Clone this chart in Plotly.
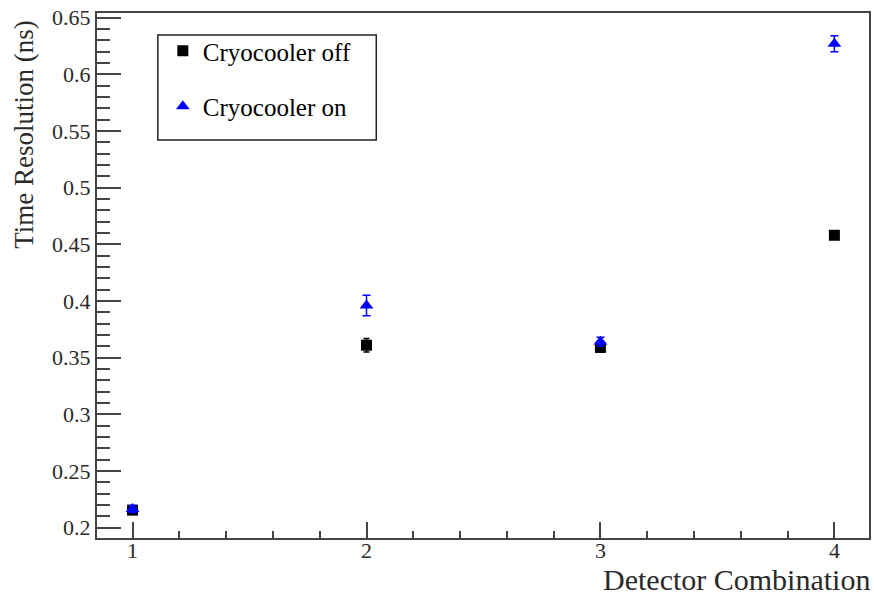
import plotly.graph_objects as go

detector = [1, 2, 3, 4]
off_vals = [0.2155, 0.361, 0.359, 0.458]
off_err = [0.002, 0.006, 0.003, 0.003]
on_vals = [0.2165, 0.396, 0.364, 0.627]
on_err = [0.003, 0.009, 0.004, 0.007]

x_ticks = [1, 2, 3, 4]
x_title = "Detector Combination"
y_title = "Time Resolution (ns)"

FONT = "Liberation Serif, Times New Roman, serif"
TXT = "#2a2a2a"
AX = "#444444"

W, H = 874, 598
L, R, T, B = 97, 3, 13, 60


def px(x):
    return (x - L) / (W - L - R)


def py(y):
    return 1 - (y - T) / (H - T - B)


fig = go.Figure()
fig.add_trace(go.Scatter(
    x=detector, y=off_vals, mode="markers", name="Cryocooler off",
    marker=dict(symbol="square", size=11, color="black"),
    error_y=dict(type="data", array=off_err, color="black", thickness=1.5, width=3),
    legendgroup="a"))
fig.add_trace(go.Scatter(
    x=detector, y=on_vals, mode="markers", name="Cryocooler on",
    marker=dict(symbol="triangle-up", size=12, color="#0000ff"),
    error_y=dict(type="data", array=on_err, color="#0000ff", thickness=1.5, width=4),
    legendgroup="b"))

fig.update_layout(
    width=W, height=H,
    margin=dict(l=L, r=R, t=T, b=B),
    paper_bgcolor="white", plot_bgcolor="white",
    font=dict(family=FONT, size=22, color=TXT),
    showlegend=True,
    legend=dict(
        x=px(163), y=py(28), xanchor="left", yanchor="top",
        borderwidth=0, bgcolor="rgba(0,0,0,0)",
        font=dict(family=FONT, size=25, color="black"),
        tracegroupgap=20, traceorder="grouped",
        itemwidth=30,
    ),
    shapes=[dict(type="rect", xref="paper", yref="paper",
                 x0=px(158), x1=px(377), y0=py(140), y1=py(35),
                 line=dict(color="#222222", width=1.5), fillcolor="rgba(0,0,0,0)")],
    xaxis=dict(
        range=[0.848, 4.148], tickvals=x_ticks, ticktext=[str(v) for v in x_ticks],
        showgrid=False, zeroline=False,
        showline=True, linecolor=AX, linewidth=2, mirror=True,
        ticks="inside", ticklen=16, tickwidth=2, tickcolor=AX,
        minor=dict(dtick=0.2, tick0=1, ticks="inside", ticklen=7, tickwidth=2, tickcolor=AX, showgrid=False),
        tickfont=dict(family=FONT, size=22, color=TXT),
        ticklabelstandoff=-8,
    ),
    yaxis=dict(
        range=[0.1909, 0.6541], dtick=0.05, tick0=0.2,
        showgrid=False, zeroline=False,
        showline=True, linecolor=AX, linewidth=2, mirror=True,
        ticks="inside", ticklen=24, tickwidth=2, tickcolor=AX,
        minor=dict(dtick=0.01, tick0=0.2, ticks="inside", ticklen=13, tickwidth=2, tickcolor=AX, showgrid=False),
        tickfont=dict(family=FONT, size=22, color=TXT),
    ),
    annotations=[
        dict(text=x_title, xref="paper", yref="paper", x=px(874), y=py(598),
             xanchor="right", yanchor="bottom", showarrow=False,
             font=dict(family=FONT, size=30, color=TXT)),
        dict(text=y_title, xref="paper", yref="paper", x=px(7), y=py(18),
             xanchor="left", yanchor="top", textangle=-90, showarrow=False,
             font=dict(family=FONT, size=27, color=TXT)),
    ],
)

fig.write_html("out.html", config={"displayModeBar": False},
               post_script="document.body.style.margin='0px';")
